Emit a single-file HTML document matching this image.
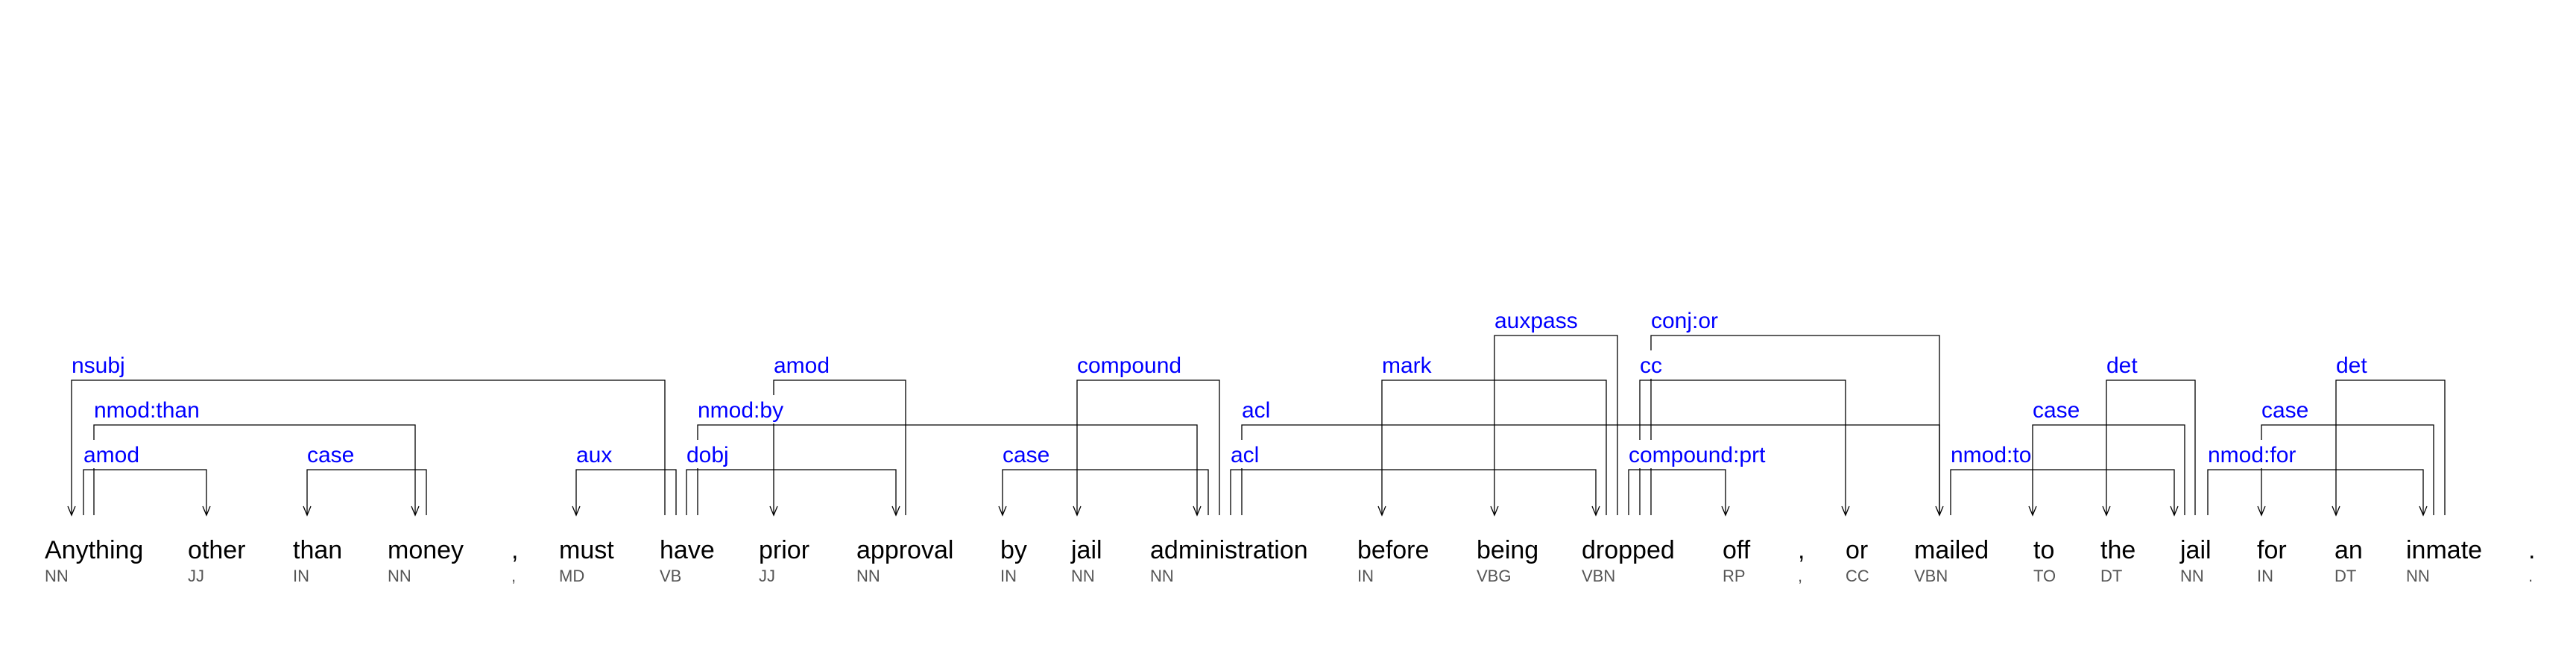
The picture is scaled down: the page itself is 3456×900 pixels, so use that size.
<!DOCTYPE html>
<html><head><meta charset="utf-8"><style>
html,body{margin:0;padding:0;background:#fff;}
svg{display:block;}
.w{font-family:"Liberation Sans",Arial,sans-serif;font-size:34px;fill:#000;}
.p{font-family:"Liberation Sans",Arial,sans-serif;font-size:22px;fill:#555;}
.l{font-family:"Liberation Sans",Arial,sans-serif;font-size:30px;fill:#0000ff;}
</style></head><body>
<svg width="3456" height="900" xmlns="http://www.w3.org/2000/svg">
<g fill="none" stroke="#000" stroke-width="1.3">
<path d="M96 691V510H892V691"/><polyline points="91,679 96,691 101,679"/>
<path d="M126 691V570H557V691"/><polyline points="552,679 557,691 562,679"/>
<path d="M112 691V630H277V691"/><polyline points="272,679 277,691 282,679"/>
<path d="M412 691V630H572V691"/><polyline points="407,679 412,691 417,679"/>
<path d="M773 691V630H907V691"/><polyline points="768,679 773,691 778,679"/>
<path d="M921 691V630H1202V691"/><polyline points="1197,679 1202,691 1207,679"/>
<path d="M936 691V570H1606V691"/><polyline points="1601,679 1606,691 1611,679"/>
<path d="M1038 691V510H1215V691"/><polyline points="1033,679 1038,691 1043,679"/>
<path d="M1345 691V630H1621V691"/><polyline points="1340,679 1345,691 1350,679"/>
<path d="M1445 691V510H1636V691"/><polyline points="1440,679 1445,691 1450,679"/>
<path d="M1666 691V570H2602V691"/><polyline points="2597,679 2602,691 2607,679"/>
<path d="M1651 691V630H2141V691"/><polyline points="2136,679 2141,691 2146,679"/>
<path d="M1854 691V510H2155V691"/><polyline points="1849,679 1854,691 1859,679"/>
<path d="M2005 691V450H2170V691"/><polyline points="2000,679 2005,691 2010,679"/>
<path d="M2200 691V510H2476V691"/><polyline points="2471,679 2476,691 2481,679"/>
<path d="M2215 691V450H2602V691"/>
<path d="M2185 691V630H2315V691"/><polyline points="2310,679 2315,691 2320,679"/>
<path d="M2617 691V630H2917V691"/><polyline points="2912,679 2917,691 2922,679"/>
<path d="M2727 691V570H2931V691"/><polyline points="2722,679 2727,691 2732,679"/>
<path d="M2826 691V510H2945V691"/><polyline points="2821,679 2826,691 2831,679"/>
<path d="M2962 691V630H3251V691"/><polyline points="3246,679 3251,691 3256,679"/>
<path d="M3034 691V570H3265V691"/><polyline points="3029,679 3034,691 3039,679"/>
<path d="M3134 691V510H3280V691"/><polyline points="3129,679 3134,691 3139,679"/>
</g>
<g fill="#fff">
<rect x="95" y="470" width="74" height="38"/>
<rect x="125" y="530" width="140" height="38"/>
<rect x="111" y="590" width="75" height="38"/>
<rect x="411" y="590" width="62" height="38"/>
<rect x="772" y="590" width="47" height="38"/>
<rect x="920" y="590" width="57" height="38"/>
<rect x="935" y="530" width="115" height="38"/>
<rect x="1037" y="470" width="75" height="38"/>
<rect x="1344" y="590" width="62" height="38"/>
<rect x="1444" y="470" width="141" height="38"/>
<rect x="1665" y="530" width="37" height="38"/>
<rect x="1650" y="590" width="37" height="38"/>
<rect x="1853" y="470" width="67" height="38"/>
<rect x="2004" y="410" width="112" height="38"/>
<rect x="2199" y="470" width="31" height="38"/>
<rect x="2214" y="410" width="90" height="38"/>
<rect x="2184" y="590" width="185" height="38"/>
<rect x="2616" y="590" width="108" height="38"/>
<rect x="2726" y="530" width="62" height="38"/>
<rect x="2825" y="470" width="42" height="38"/>
<rect x="2961" y="590" width="117" height="38"/>
<rect x="3033" y="530" width="62" height="38"/>
<rect x="3133" y="470" width="42" height="38"/>
</g>
<g class="l">
<text x="96" y="500" class="l">nsubj</text>
<text x="126" y="560" class="l">nmod:than</text>
<text x="112" y="620" class="l">amod</text>
<text x="412" y="620" class="l">case</text>
<text x="773" y="620" class="l">aux</text>
<text x="921" y="620" class="l">dobj</text>
<text x="936" y="560" class="l">nmod:by</text>
<text x="1038" y="500" class="l">amod</text>
<text x="1345" y="620" class="l">case</text>
<text x="1445" y="500" class="l">compound</text>
<text x="1666" y="560" class="l">acl</text>
<text x="1651" y="620" class="l">acl</text>
<text x="1854" y="500" class="l">mark</text>
<text x="2005" y="440" class="l">auxpass</text>
<text x="2200" y="500" class="l">cc</text>
<text x="2215" y="440" class="l">conj:or</text>
<text x="2185" y="620" class="l">compound:prt</text>
<text x="2617" y="620" class="l">nmod:to</text>
<text x="2727" y="560" class="l">case</text>
<text x="2826" y="500" class="l">det</text>
<text x="2962" y="620" class="l">nmod:for</text>
<text x="3034" y="560" class="l">case</text>
<text x="3134" y="500" class="l">det</text>
</g>
<g>
<text class="w" x="60" y="749">Anything</text><text class="p" x="60" y="780">NN</text>
<text class="w" x="252" y="749">other</text><text class="p" x="252" y="780">JJ</text>
<text class="w" x="393" y="749">than</text><text class="p" x="393" y="780">IN</text>
<text class="w" x="520" y="749">money</text><text class="p" x="520" y="780">NN</text>
<text class="w" x="686" y="749">,</text><text class="p" x="686" y="780">,</text>
<text class="w" x="750" y="749">must</text><text class="p" x="750" y="780">MD</text>
<text class="w" x="885" y="749">have</text><text class="p" x="885" y="780">VB</text>
<text class="w" x="1018" y="749">prior</text><text class="p" x="1018" y="780">JJ</text>
<text class="w" x="1149" y="749">approval</text><text class="p" x="1149" y="780">NN</text>
<text class="w" x="1342" y="749">by</text><text class="p" x="1342" y="780">IN</text>
<text class="w" x="1437" y="749">jail</text><text class="p" x="1437" y="780">NN</text>
<text class="w" x="1543" y="749">administration</text><text class="p" x="1543" y="780">NN</text>
<text class="w" x="1821" y="749">before</text><text class="p" x="1821" y="780">IN</text>
<text class="w" x="1981" y="749">being</text><text class="p" x="1981" y="780">VBG</text>
<text class="w" x="2122" y="749">dropped</text><text class="p" x="2122" y="780">VBN</text>
<text class="w" x="2311" y="749">off</text><text class="p" x="2311" y="780">RP</text>
<text class="w" x="2412" y="749">,</text><text class="p" x="2412" y="780">,</text>
<text class="w" x="2476" y="749">or</text><text class="p" x="2476" y="780">CC</text>
<text class="w" x="2568" y="749">mailed</text><text class="p" x="2568" y="780">VBN</text>
<text class="w" x="2728" y="749">to</text><text class="p" x="2728" y="780">TO</text>
<text class="w" x="2818" y="749">the</text><text class="p" x="2818" y="780">DT</text>
<text class="w" x="2925" y="749">jail</text><text class="p" x="2925" y="780">NN</text>
<text class="w" x="3028" y="749">for</text><text class="p" x="3028" y="780">IN</text>
<text class="w" x="3132" y="749">an</text><text class="p" x="3132" y="780">DT</text>
<text class="w" x="3228" y="749">inmate</text><text class="p" x="3228" y="780">NN</text>
<text class="w" x="3392" y="749">.</text><text class="p" x="3392" y="780">.</text>
</g>
</svg>
</body></html>
